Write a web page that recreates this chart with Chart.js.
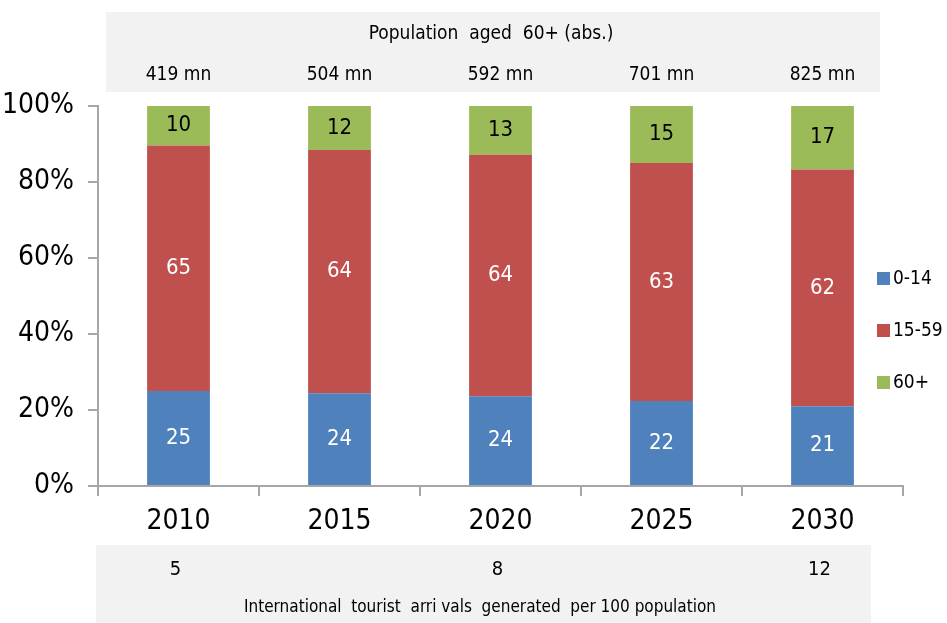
<!DOCTYPE html>
<html>
<head>
<meta charset="utf-8">
<script src="https://cdn.jsdelivr.net/npm/chart.js@4"></script>
<style>
  body { margin: 0; background: #fff; }
  #wrap { width: 947px; height: 623px; }
</style>
</head>
<body>
<div id="wrap"><canvas id="ageChart" width="947" height="623"></canvas></div>
<script>
// data (shares in %, labels shown rounded)
const years = ["2010", "2015", "2020", "2025", "2030"];
const age0to14 = [25.0, 24.4, 23.6, 22.4, 21.0];
const age15to59 = [64.6, 64.0, 63.6, 62.6, 62.3];
const age60plus = [10.4, 11.6, 12.8, 15.0, 16.7];
const pop60abs = [419, 504, 592, 701, 825]; // mn
const arrivalsPer100 = [5, null, 8, null, 12];
const yTicks = [0, 20, 40, 60, 80, 100];

const FONT = "'Liberation Sans Narrow', 'DejaVu Sans Condensed', 'Arial Narrow', sans-serif";

// grey bands above and below the plot
const bandsPlugin = {
    id: "bands",
    beforeDraw: function (chart) {
        const ctx = chart.ctx;
        const x = chart.scales.x;
        ctx.save();
        ctx.fillStyle = "#f2f2f2";
        ctx.fillRect(106, 12, 774, 80);
        ctx.fillRect(96, 545, 775, 78);

        ctx.fillStyle = "#000";
        ctx.textAlign = "center";
        ctx.textBaseline = "middle";
        ctx.font = "19px " + FONT;
        ctx.fillText("Population  aged  60+ (abs.)", 491, 34);
        pop60abs.forEach(function (v, i) {
            ctx.fillText(v + " mn", x.getPixelForValue(i), 75);
        });
        ctx.font = "20px " + FONT;
        arrivalsPer100.forEach(function (v, i) {
            if (v !== null) ctx.fillText(String(v), x.getPixelForValue(i) - 3, 570);
        });
        ctx.font = "17px " + FONT;
        ctx.fillText("International  tourist  arri vals  generated  per 100 population", 480, 608);
        ctx.restore();
    },
    afterDatasetsDraw: function (chart) {
        const ctx = chart.ctx;
        ctx.save();
        ctx.textAlign = "center";
        ctx.textBaseline = "middle";
        ctx.font = "22px " + FONT;
        chart.data.datasets.forEach(function (ds, di) {
            const meta = chart.getDatasetMeta(di);
            meta.data.forEach(function (bar, j) {
                ctx.fillStyle = di === 2 ? "#000" : "#fff";
                const cy = (bar.y + bar.base) / 2;
                ctx.fillText(String(Math.round(ds.data[j])), bar.x, cy);
            });
        });

        // legend on the right
        ctx.textAlign = "left";
        ctx.font = "19px " + FONT;
        chart.data.datasets.forEach(function (ds, i) {
            const cy = 278 + i * 52;
            ctx.fillStyle = ds.backgroundColor;
            ctx.fillRect(877, cy - 6, 13, 13);
            ctx.fillStyle = "#000";
            ctx.fillText(ds.label, 893, cy + 1);
        });
        ctx.restore();
    },
};

const axisGrey = "#a6a6a6";

new Chart(document.getElementById("ageChart"), {
    type: "bar",
    data: {
        labels: years,
        datasets: [
            { label: "0-14", data: age0to14, backgroundColor: "#4f81bd" },
            { label: "15-59", data: age15to59, backgroundColor: "#c0504d" },
            { label: "60+", data: age60plus, backgroundColor: "#9bbb59" },
        ],
    },
    options: {
        responsive: false,
        animation: false,
        layout: { padding: { top: 106, right: 44, left: 0, bottom: 0 } },
        datasets: { bar: { barPercentage: 0.39, categoryPercentage: 1 } },
        plugins: { legend: { display: false }, tooltip: { enabled: false } },
        scales: {
            x: {
                stacked: true,
                afterFit: function (s) { s.height = 137; },
                grid: {
                    offset: true,
                    drawOnChartArea: false,
                    tickLength: 10,
                    color: axisGrey,
                    lineWidth: 2,
                },
                border: { color: axisGrey, width: 2 },
                ticks: { color: "#000", font: { family: FONT, size: 28 }, padding: 9 },
            },
            y: {
                stacked: true,
                min: 0,
                max: 100,
                afterFit: function (s) { s.width = 98; },
                afterBuildTicks: function (s) {
                    s.ticks = yTicks.map(function (v) { return { value: v }; });
                },
                grid: {
                    drawOnChartArea: false,
                    tickLength: 10,
                    color: axisGrey,
                    lineWidth: 2,
                },
                border: { color: axisGrey, width: 2 },
                ticks: {
                    color: "#000",
                    font: { family: FONT, size: 28 },
                    padding: 14,
                    callback: function (v) { return v + "%"; },
                },
            },
        },
    },
    plugins: [bandsPlugin],
});
</script>
</body>
</html>
